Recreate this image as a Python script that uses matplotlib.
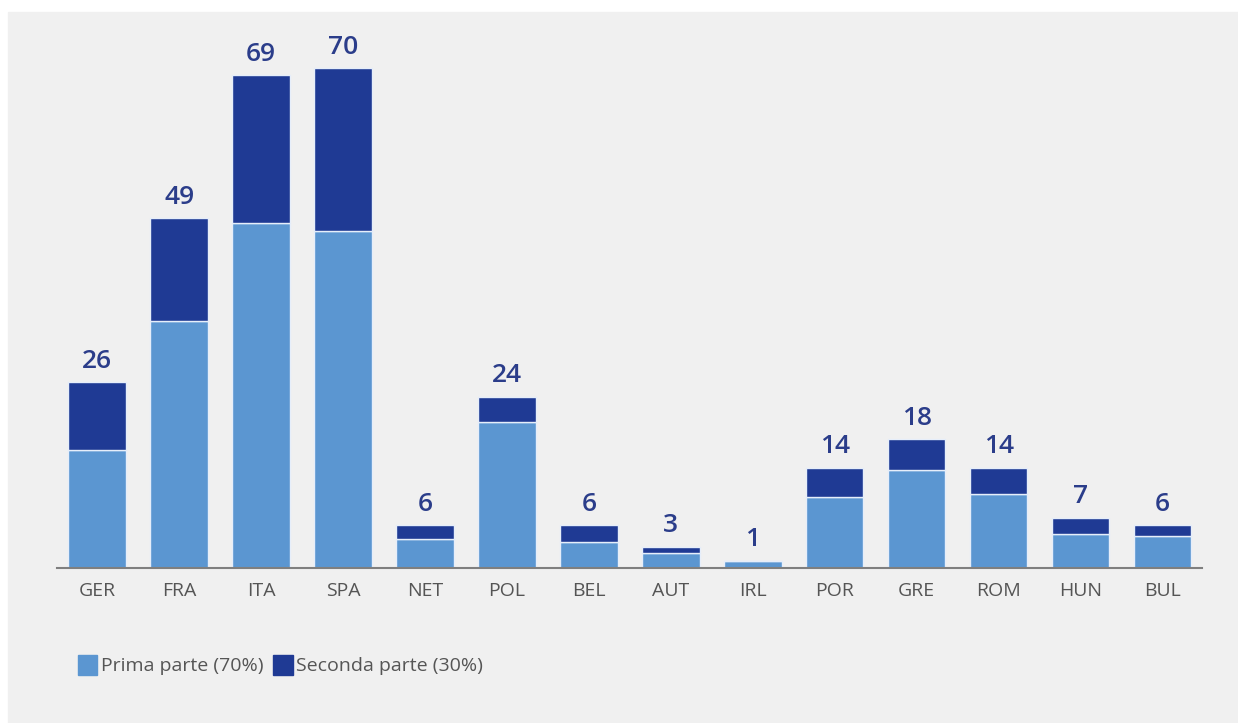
import matplotlib.pyplot as plt
from matplotlib.patches import Rectangle, Patch
import numpy as np

paesi = ['GER', 'FRA', 'ITA', 'SPA', 'NET', 'POL', 'BEL', 'AUT', 'IRL',
         'POR', 'GRE', 'ROM', 'HUN', 'BUL']
totali = [26, 49, 69, 70, 6, 24, 6, 3, 1, 14, 18, 14, 7, 6]
prima = [16.5, 34.6, 48.3, 47.2, 4.0, 20.5, 3.7, 2.1, 1.0, 9.9, 13.7, 10.3, 4.8, 4.5]
seconda = [t - p for t, p in zip(totali, prima)]

chiaro = '#5b96d1'
scuro = '#1f3a94'
grigio = '#f0f0f0'

plt.rcParams['font.family'] = ['Open Sans', 'DejaVu Sans']

fig = plt.figure(figsize=(12.38, 7.23), dpi=100)
# pannello grigio dietro al grafico
fig.patches.append(Rectangle((8 / 1238, 0), 1, 1 - 12 / 723,
                             transform=fig.transFigure, color=grigio, zorder=-10))

ax = fig.add_axes([57 / 1238, 155 / 723, 1145 / 1238, 0.785])
ax.set_facecolor('none')

x = np.arange(len(paesi))
ax.bar(x, prima, width=0.7, color=chiaro, edgecolor='#e6eefa', linewidth=1)
ax.bar(x, seconda, width=0.7, bottom=prima, color=scuro,
       edgecolor='#e6eefa', linewidth=1)

for xi, t in zip(x, totali):
    ax.text(xi, t + 1.2, str(t), ha='center', va='bottom', fontsize=19,
            fontweight='semibold', color='#2b3d8a')

ax.set_xlim(-0.49, 13.48)
ax.set_ylim(0, 79.5)
ax.set_xticks(x)
ax.set_xticklabels(paesi, fontsize=14, color='#555555')
ax.tick_params(axis='x', length=0, pad=10)
ax.set_yticks([])
for lato in ['top', 'right', 'left']:
    ax.spines[lato].set_visible(False)
ax.spines['bottom'].set_color('#7f7f7f')
ax.spines['bottom'].set_linewidth(1.5)

maniglie = [Patch(color=chiaro, label='Prima parte (70%)'),
            Patch(color=scuro, label='Seconda parte (30%)')]
fig.legend(handles=maniglie, loc='center left', bbox_to_anchor=(60 / 1238, 1 - 665 / 723),
           ncol=2, frameon=False, fontsize=14, handlelength=1.0, handleheight=1.2,
           handletextpad=0.2, columnspacing=0.5, labelcolor='#555555')

fig.savefig('out.png', dpi=100)
